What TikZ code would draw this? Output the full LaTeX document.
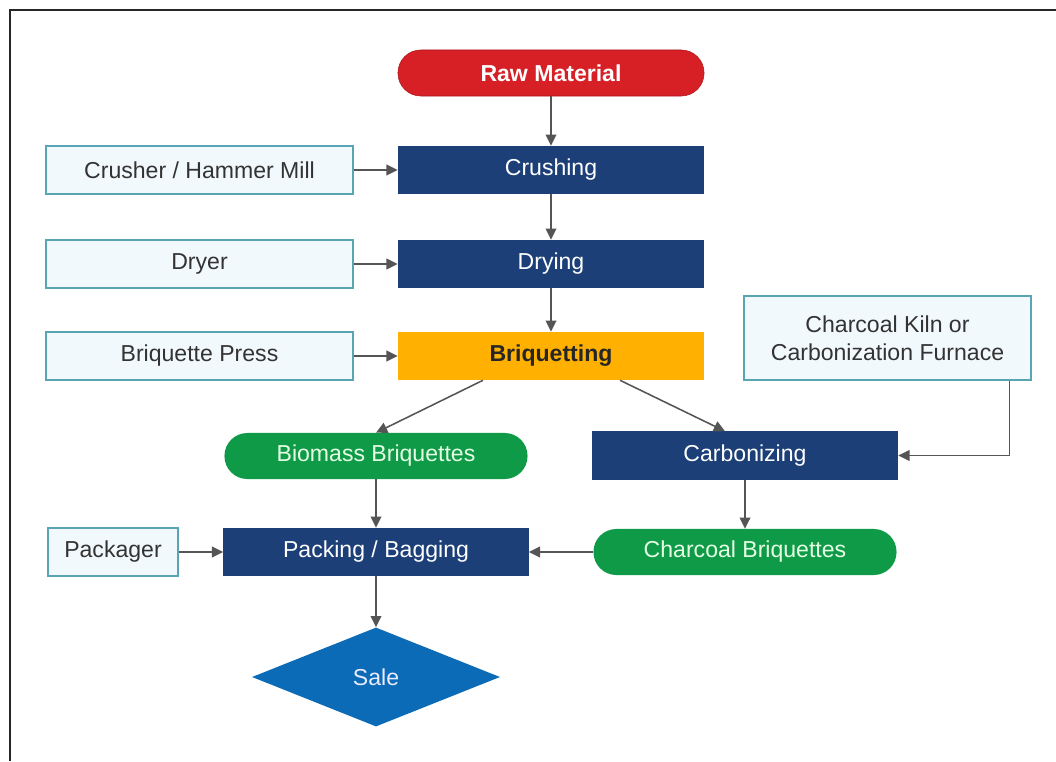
\documentclass[tikz,border=0pt]{standalone}
\usepackage{fontspec}
\setmainfont{Liberation Sans}
\usepackage{tikz}
\usetikzlibrary{arrows.meta, positioning, shapes.geometric}
\definecolor{flowRed}{HTML}{D71F26}
\definecolor{flowNavy}{HTML}{1C3F77}
\definecolor{flowOrange}{HTML}{FFB000}
\definecolor{flowGreen}{HTML}{0F9A48}
\definecolor{flowBlue}{HTML}{0B6BB6}
\definecolor{toolFill}{HTML}{F2F9FC}
\definecolor{toolEdge}{HTML}{5AA5B4}
\definecolor{arrowGray}{HTML}{555555}

\begin{document}
\begin{tikzpicture}[
  x=0.025cm, y=-0.025cm,
  font=\fontsize{16.4}{20}\selectfont,
  process/.style={fill=flowNavy, text=white, minimum width=7.65cm,
                  minimum height=1.2cm, align=center, inner sep=2pt},
  tool/.style={draw=toolEdge, line width=0.8pt, fill=toolFill, text=black!80,
               minimum width=7.675cm, minimum height=1.2cm, align=center, inner sep=2pt},
  product/.style={fill=flowGreen, text=green!10, rounded corners=0.57cm,
                  minimum width=7.575cm, minimum height=1.15cm, inner sep=2pt},
  a/.style={-{Triangle[length=2.8mm, width=2.7mm]}, line width=1.1pt, draw=arrowGray}
]
\useasboundingbox (0,0) rectangle (1056,761);
\draw[line width=1pt, black!85] (10,761) -- (10,10) -- (1056,10);

\node[fill=flowRed, draw=flowRed!80!black, text=white, font=\fontsize{16.4}{20}\selectfont\bfseries,
      rounded corners=0.57cm, minimum width=7.65cm, minimum height=1.15cm] (raw) at (551,73) {Raw Material};

\node[process] (crushing) at (551,170) {Crushing};
\node[process] (drying) at (551,264) {Drying};
\node[process, fill=flowOrange, text=black!85, font=\fontsize{16.4}{20}\selectfont\bfseries] (briquetting) at (551,356) {Briquetting};

\node[tool] (crusher) at (199.5,170) {Crusher / Hammer Mill};
\node[tool] (dryer) at (199.5,264) {Dryer};
\node[tool] (press) at (199.5,356) {Briquette Press};
\node[tool, minimum width=7.175cm, minimum height=2.1cm] (kiln) at (887.5,338) {Charcoal Kiln or\\Carbonization Furnace};

\node[product] (biomass) at (376,456) {Biomass Briquettes};
\node[process] (carbonizing) at (745,455.5) {Carbonizing};
\node[product] (charcoal) at (745,552) {Charcoal Briquettes};

\node[tool, minimum width=3.25cm] (packager) at (113,552) {Packager};
\node[process, minimum width=7.625cm] (packing) at (376,552) {Packing / Bagging};
\node[diamond, fill=flowBlue, text=blue!8, minimum width=6.2cm, minimum height=2.475cm,
      inner sep=0pt] (sale) at (376,677) {Sale};

\foreach \s/\t in {raw/crushing, crushing/drying, drying/briquetting,
                   crusher/crushing, dryer/drying, press/briquetting,
                   biomass/packing, carbonizing/charcoal, charcoal/packing,
                   packager/packing, packing/sale}
  \draw[a] (\s) -- (\t);

\draw[a] ([xshift=-1.7cm]briquetting.south) -- (biomass.north);
\draw[a] ([xshift=1.725cm]briquetting.south) -- ([xshift=-0.5cm]carbonizing.north);
\draw[a] ([xshift=-0.55cm]kiln.south east) |- (carbonizing.east);
\end{tikzpicture}
\end{document}
